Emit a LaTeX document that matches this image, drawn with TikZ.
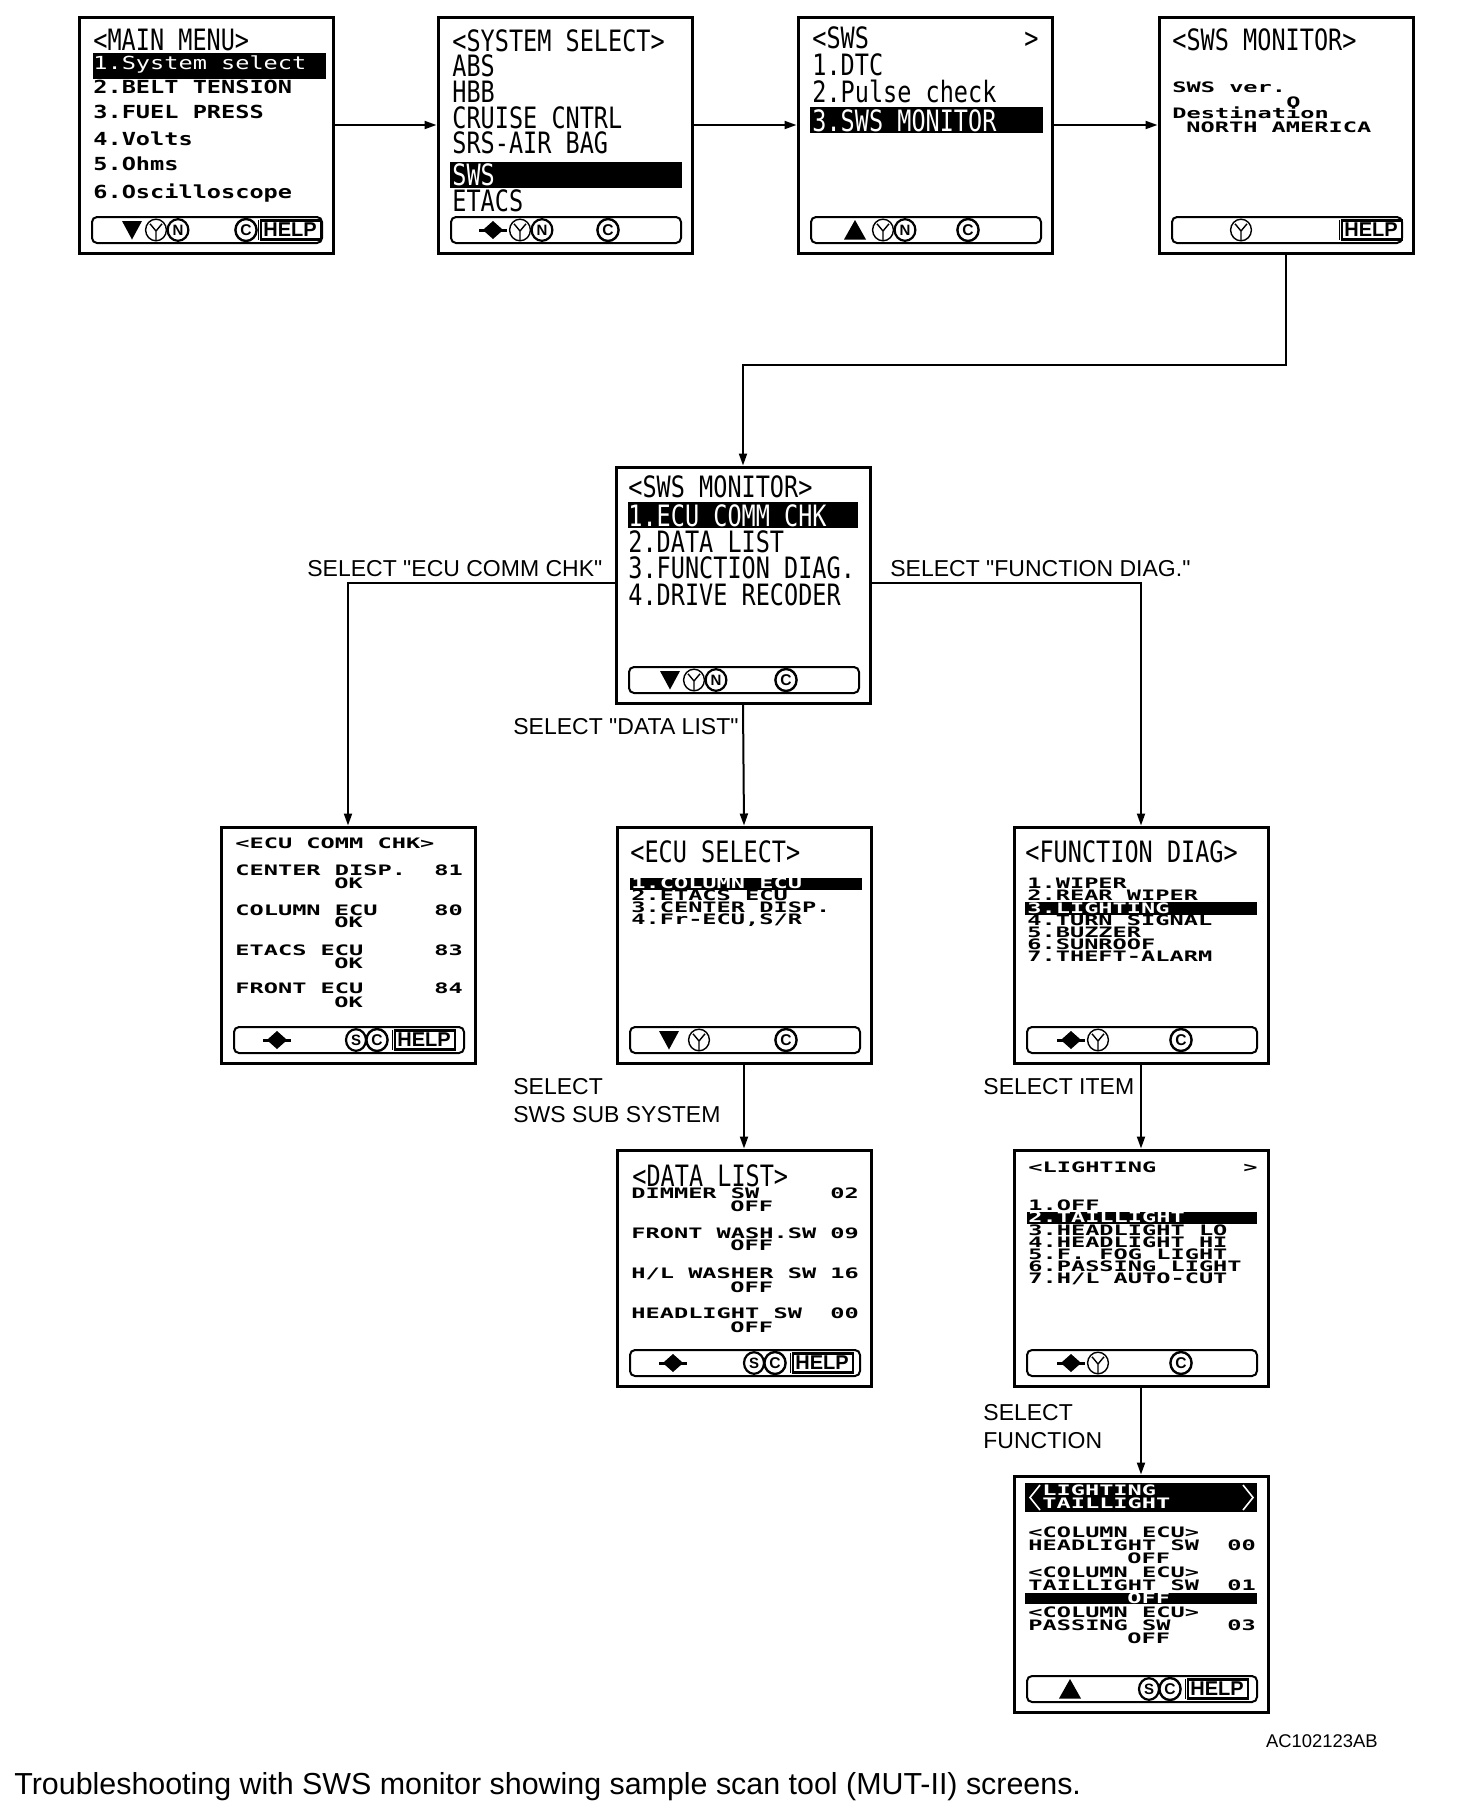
\documentclass[tikz,border=0pt]{standalone}
\usepackage{fontspec}
\setmainfont{Liberation Sans}
\newfontfamily\lblfam{Liberation Sans}
\newfontfamily\tallfam[FakeStretch=0.80]{DejaVu Sans Mono}
\newfontfamily\pixfam[FakeStretch=1.64]{DejaVu Sans Mono}
\newfontfamily\pixbfam[FakeStretch=1.31]{DejaVu Sans Mono}
\usetikzlibrary{arrows.meta}
\tikzset{
  lcd/.style={draw, line width=1.5pt, minimum width=127pt, minimum height=118pt, inner sep=0pt},
  tall/.style={font=\tallfam\fontsize{14.7pt}{16pt}\selectfont, anchor=base west, inner sep=0pt},
  pix/.style={font=\pixfam\bfseries\fontsize{7.2pt}{8pt}\selectfont, anchor=base west, inner sep=0pt},
  pixb/.style={font=\pixbfam\bfseries\fontsize{9pt}{10pt}\selectfont, anchor=base west, inner sep=0pt},
  pixl/.style={font=\pixbfam\fontsize{9pt}{10pt}\selectfont, anchor=base west, inner sep=0pt},
  lbl/.style={font=\lblfam\fontsize{11.5pt}{12pt}\selectfont, anchor=base west, inner sep=0pt},
  bar/.style={line width=1pt, rounded corners=2.5pt},
  arr/.style={line width=1pt, -{Triangle[length=6pt,width=4pt]}},
  hl/.style={fill=black},
  icY/.pic={\draw[line width=0.7pt] (0,0) ellipse [x radius=5.2pt, y radius=5.4pt];
            \draw[line width=0.7pt] (-6,-6.2)--(0,1)--(6,-6.2) (0,1)--(0,10.6);},
  icN/.pic={\draw[line width=1.1pt] (0,0) ellipse [x radius=5.2pt, y radius=5.4pt];
            \node[inner sep=0pt, font=\lblfam\bfseries\fontsize{7.5pt}{7pt}\selectfont] {N};},
  icC/.pic={\draw[line width=1.2pt] (0,0) ellipse [x radius=5.3pt, y radius=5.5pt];
            \node[inner sep=0pt, font=\lblfam\bfseries\fontsize{7.8pt}{7pt}\selectfont] {C};},
  icS/.pic={\draw[line width=1.1pt] (0,0) ellipse [x radius=5pt, y radius=5.4pt];
            \node[inner sep=0pt, font=\lblfam\bfseries\fontsize{7.5pt}{7pt}\selectfont] {S};},
  icHelp/.pic={\draw[line width=0.5pt] (-32,-10)--(-32,10);
            \draw[line width=1.1pt] (-29,-9.5) rectangle (31,9.5);
            \node[inner sep=0pt, font=\lblfam\bfseries\fontsize{10pt}{10pt}\selectfont] {HELP};},
  icDown/.pic={\fill (-10,-9)--(10,-9)--(0,9.5)--cycle;},
  icUp/.pic={\fill (-11,9.5)--(11,9.5)--(0,-10)--cycle;},
  icUD/.pic={\fill (-14,-1.5) rectangle (14,1.5); \fill (-9,-1)--(9,-1)--(0,-9)--cycle;
             \fill (-9,1)--(9,1)--(0,9)--cycle;},
}
\newcommand\lcdbar{\draw[bar] (13,200) rectangle (243,226);}
\begin{document}
\begin{tikzpicture}[x=0.5pt,y=-0.5pt]
\useasboundingbox (0,0) rectangle (1472,1816);
\fill[white] (0,0) rectangle (1472,1816);

% ---------- boxes ----------
\node[lcd] (b1) at (206,135) {};
\node[lcd] (b2) at (565,135) {};
\node[lcd] (b3) at (925,135) {};
\node[lcd] (b4) at (1286,135) {};
\node[lcd] (b5) at (743,585) {};
\node[lcd] (b6) at (348,945) {};
\node[lcd] (b7) at (744,945) {};
\node[lcd] (b8) at (1141,945) {};
\node[lcd] (b9) at (744,1268) {};
\node[lcd] (b10) at (1141,1268) {};
\node[lcd] (b11) at (1141,1594) {};

% ---------- B1 MAIN MENU ----------
\begin{scope}[shift={(79,17)}]
\node[tall] (t1a) at (14,33) {<MAIN MENU>};
\fill[hl] (14,36) rectangle (247,62);
\node[pixl,white] (t1b) at (14,52) {1.System select};
\node[pixb] (t1c) at (14,76) {2.BELT TENSION};
\node[pixb] (t1d) at (14,101) {3.FUEL PRESS};
\node[pixb] (t1e) at (14,128) {4.Volts};
\node[pixb] (t1f) at (14,153) {5.Ohms};
\node[pixb] (t1g) at (14,181) {6.Oscilloscope};
\lcdbar
\pic at (53,213) {icDown}; \pic at (77,213) {icY}; \pic at (99,213) {icN};
\pic at (167,213) {icC}; \pic at (211,213) {icHelp};
\end{scope}

% ---------- B2 SYSTEM SELECT ----------
\begin{scope}[shift={(438,17)}]
\node[tall] (t2a) at (14,34) {<SYSTEM SELECT>};
\node[tall] (t2b) at (14,59) {ABS};
\node[tall] (t2c) at (14,85) {HBB};
\node[tall] (t2d) at (14,111) {CRUISE CNTRL};
\node[tall] (t2e) at (14,136) {SRS-AIR BAG};
\fill[hl] (12,145) rectangle (244,171);
\node[tall,white] (t2f) at (14,168) {SWS};
\node[tall] (t2g) at (14,194) {ETACS};
\lcdbar
\pic at (55,213) {icUD}; \pic at (82,213) {icY}; \pic at (104,213) {icN};
\pic at (170,213) {icC};
\end{scope}

% ---------- B3 SWS ----------
\begin{scope}[shift={(798,17)}]
\node[tall] (t3a) at (14,31) {<SWS};
\node[tall] (t3b) at (226,31) {>};
\node[tall] (t3c) at (14,58) {1.DTC};
\node[tall] (t3d) at (14,85) {2.Pulse check};
\fill[hl] (12,90) rectangle (245,116);
\node[tall,white] (t3e) at (14,114) {3.SWS MONITOR};
\lcdbar
\pic at (57,213) {icUp}; \pic at (85,213) {icY}; \pic at (107,213) {icN};
\pic at (170,213) {icC};
\end{scope}

% ---------- B4 SWS MONITOR ----------
\begin{scope}[shift={(1159,17)}]
\node[tall] (t4a) at (13,33) {<SWS MONITOR>};
\node[pix] (t4b) at (13,75) {SWS ver.};
\node[pix] (t4c) at (127,90) {O};
\node[pix] (t4d) at (13,101) {Destination};
\node[pix] (t4e) at (27,115) {NORTH AMERICA};
\lcdbar
\pic at (82,213) {icY}; \pic at (212,213) {icHelp};
\end{scope}

% ---------- B5 SWS MONITOR menu ----------
\begin{scope}[shift={(616,467)}]
\node[tall] (t5a) at (12,30) {<SWS MONITOR>};
\fill[hl] (12,35) rectangle (242,61);
\node[tall,white] (t5b) at (12,59) {1.ECU COMM CHK};
\node[tall] (t5c) at (12,85) {2.DATA LIST};
\node[tall] (t5d) at (12,111) {3.FUNCTION DIAG.};
\node[tall] (t5e) at (12,138) {4.DRIVE RECODER};
\lcdbar
\pic at (54,213) {icDown}; \pic at (78,213) {icY}; \pic at (100,213) {icN};
\pic at (170,213) {icC};
\end{scope}

% ---------- B6 ECU COMM CHK ----------
\begin{scope}[shift={(221,827)}]
\node[pix] (t6a) at (14,21) {<ECU~COMM~CHK>};
\node[pix] (t6b) at (14,48) {CENTER~DISP.~~81};
\node[pix] (t6c) at (113,61) {OK};
\node[pix] (t6d) at (14,88) {COLUMN~ECU~~~~80};
\node[pix] (t6e) at (113,100) {OK};
\node[pix] (t6f) at (14,128) {ETACS~ECU~~~~~83};
\node[pix] (t6g) at (113,141) {OK};
\node[pix] (t6h) at (14,166) {FRONT~ECU~~~~~84};
\node[pix] (t6i) at (113,180) {OK};
\lcdbar
\pic at (56,213) {icUD}; \pic at (135,213) {icS}; \pic at (156,213) {icC};
\pic at (203,213) {icHelp};
\end{scope}

% ---------- B7 ECU SELECT ----------
\begin{scope}[shift={(617,827)}]
\node[tall] (t7a) at (13,35) {<ECU SELECT>};
\fill[hl] (13,51) rectangle (245,63);
\node[pix,white] (t7b) at (14,61) {1.COLUMN~ECU};
\node[pix] (t7c) at (14,73) {2.ETACS~ECU};
\node[pix] (t7d) at (14,85) {3.CENTER~DISP.};
\node[pix] (t7e) at (14,97) {4.Fr-ECU,S/R};
\lcdbar
\pic at (52,213) {icDown}; \pic at (82,213) {icY}; \pic at (169,213) {icC};
\end{scope}

% ---------- B8 FUNCTION DIAG ----------
\begin{scope}[shift={(1014,827)}]
\node[tall] (t8a) at (11,35) {<FUNCTION DIAG>};
\node[pix] (t8b) at (13,61) {1.WIPER};
\node[pix] (t8c) at (13,73) {2.REAR~WIPER};
\fill[hl] (11,75) rectangle (243,88);
\node[pix,white] (t8d) at (13,86) {3.LIGHTING};
\node[pix] (t8e) at (13,98) {4.TURN~SIGNAL};
\node[pix] (t8f) at (13,110) {5.BUZZER};
\node[pix] (t8g) at (13,122) {6.SUNROOF};
\node[pix] (t8h) at (13,134) {7.THEFT-ALARM};
\lcdbar
\pic at (57,213) {icUD}; \pic at (84,213) {icY}; \pic at (167,213) {icC};
\end{scope}

% ---------- B9 DATA LIST ----------
\begin{scope}[shift={(617,1150)}]
\node[tall] (t9a) at (15,36) {<DATA LIST>};
\node[pix] (t9b) at (14,48) {DIMMER~SW~~~~~02};
\node[pix] (t9c) at (113,61) {OFF};
\node[pix] (t9d) at (14,88) {FRONT~WASH.SW~09};
\node[pix] (t9e) at (113,100) {OFF};
\node[pix] (t9f) at (14,128) {H/L~WASHER~SW~16};
\node[pix] (t9g) at (113,142) {OFF};
\node[pix] (t9h) at (14,168) {HEADLIGHT~SW~~00};
\node[pix] (t9i) at (113,182) {OFF};
\lcdbar
\pic at (56,213) {icUD}; \pic at (137,213) {icS}; \pic at (158,213) {icC};
\pic at (205,213) {icHelp};
\end{scope}

% ---------- B10 LIGHTING ----------
\begin{scope}[shift={(1014,1150)}]
\node[pix] (t10a) at (14,22) {<LIGHTING};
\node[pix] (t10b) at (229,22) {>};
\node[pix] (t10c) at (14,60) {1.OFF};
\fill[hl] (13,62) rectangle (243,74);
\node[pix,white] (t10d) at (14,72) {2.TAILLIGHT};
\node[pix] (t10e) at (14,85) {3.HEADLIGHT~LO};
\node[pix] (t10f) at (14,97) {4.HEADLIGHT~HI};
\node[pix] (t10g) at (14,109) {5.F.~FOG~LIGHT};
\node[pix] (t10h) at (14,121) {6.PASSING~LIGHT};
\node[pix] (t10i) at (14,133) {7.H/L~AUTO-CUT};
\lcdbar
\pic at (57,213) {icUD}; \pic at (84,213) {icY}; \pic at (167,213) {icC};
\end{scope}

% ---------- B11 LIGHTING TAILLIGHT ----------
\begin{scope}[shift={(1014,1476)}]
\fill[hl] (11,7) rectangle (243,36);
\draw[white, line width=0.8pt] (26,9)--(16,21.5)--(26,34);
\draw[white, line width=0.8pt] (229,9)--(239,21.5)--(229,34);
\node[pix,white] (t11a) at (28,19) {LIGHTING};
\node[pix,white] (t11b) at (28,32) {TAILLIGHT};
\node[pix] (t11c) at (14,61) {<COLUMN~ECU>};
\node[pix] (t11d) at (14,74) {HEADLIGHT~SW~~00};
\node[pix] (t11e) at (113,87) {OFF};
\node[pix] (t11f) at (14,101) {<COLUMN~ECU>};
\node[pix] (t11g) at (14,114) {TAILLIGHT~SW~~01};
\fill[hl] (11,117) rectangle (243,128);
\node[pix,white] (t11h) at (113,127) {OFF};
\node[pix] (t11i) at (14,141) {<COLUMN~ECU>};
\node[pix] (t11j) at (14,154) {PASSING~SW~~~~03};
\node[pix] (t11k) at (113,167) {OFF};
\lcdbar
\pic at (56,213) {icUp}; \pic at (135,213) {icS}; \pic at (156,213) {icC};
\pic at (203,213) {icHelp};
\end{scope}

% ---------- connectors ----------
\draw[arr] ([yshift=5pt]b1.east) -- ([yshift=5pt]b2.west);
\draw[arr] ([yshift=5pt]b2.east) -- ([yshift=5pt]b3.west);
\draw[arr] ([yshift=5pt]b3.east) -- ([yshift=5pt]b4.west);
\coordinate (k1) at (743,365);
\draw[arr] (b4.south) |- (k1) -- (b5.north);
\draw[arr] ([yshift=1pt]b5.west) -| (b6.north);
\draw[arr] ([yshift=1pt]b5.east) -| (b8.north);
\draw[arr] (b5.south) -- (b7.north);
\draw[arr] (b7.south) -- (b9.north);
\draw[arr] (b8.south) -- (b10.north);
\draw[arr] (b10.south) -- (b11.north);

% ---------- labels ----------
\node[lbl] (l1) at (307,576) {SELECT "ECU COMM CHK"};
\node[lbl] (l2) at (890,576) {SELECT "FUNCTION DIAG."};
\node[lbl] (l3) at (513,734) {SELECT "DATA LIST"};
\node[lbl] (l4) at (513,1094) {SELECT};
\node[lbl] (l5) at (513,1122) {SWS SUB SYSTEM};
\node[lbl] (l6) at (983,1094) {SELECT ITEM};
\node[lbl] (l7) at (983,1420) {SELECT};
\node[lbl] (l8) at (983,1448) {FUNCTION};

\node[font=\lblfam\fontsize{9.2pt}{10pt}\selectfont, anchor=base east, inner sep=0pt] (code) at (1378,1747) {AC102123AB};
\node[font=\lblfam\fontsize{15.2pt}{16pt}\selectfont, anchor=base west, inner sep=0pt] (caption) at (14,1794)
  {Troubleshooting with SWS monitor showing sample scan tool (MUT-II) screens.};
\end{tikzpicture}
\end{document}
